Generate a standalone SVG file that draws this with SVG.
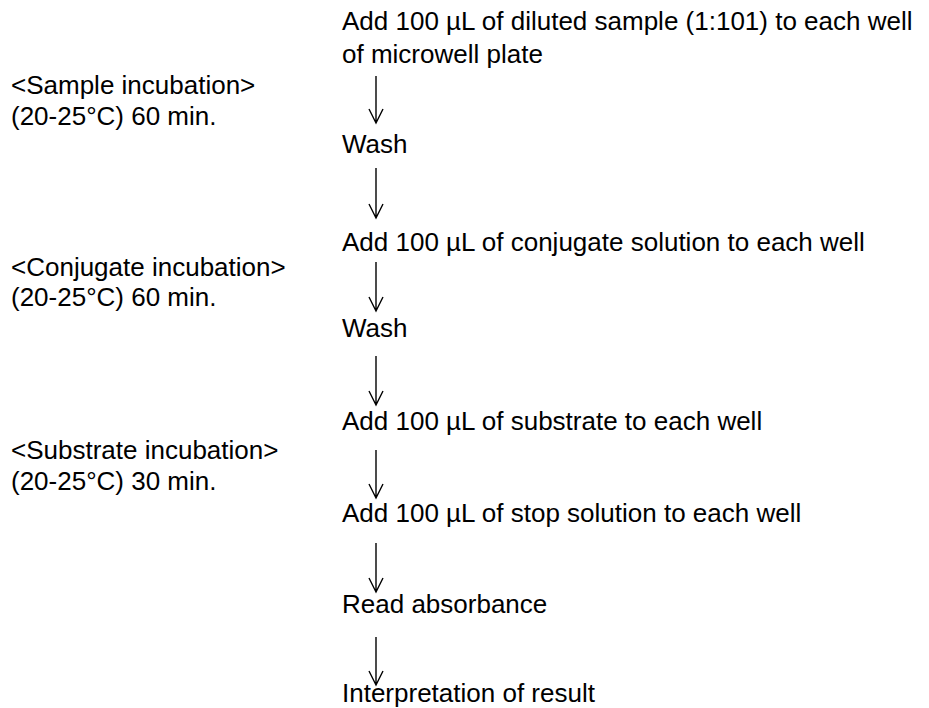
<svg xmlns="http://www.w3.org/2000/svg" width="929" height="708" viewBox="0 0 929 708">
<style>
text{font-family:"Liberation Sans",Arial,sans-serif;font-size:26px;fill:#000}
.c path{fill:none;stroke:#000;stroke-width:1.4}
</style>
<rect width="929" height="708" fill="#fff"/>
<g id="step1"><text x="342" y="30">Add 100 µL of diluted sample (1:101) to each well</text><text x="342" y="63">of microwell plate</text></g>
<g id="sample-incubation"><text x="11" y="94">&lt;Sample incubation&gt;</text><text x="11" y="125">(20-25°C) 60 min.</text></g>
<g id="wash1"><text x="342" y="153">Wash</text></g>
<g id="step-conjugate"><text x="342" y="251">Add 100 µL of conjugate solution to each well</text></g>
<g id="conjugate-incubation"><text x="11" y="276">&lt;Conjugate incubation&gt;</text><text x="11" y="306">(20-25°C) 60 min.</text></g>
<g id="wash2"><text x="342" y="337">Wash</text></g>
<g id="step-substrate"><text x="342" y="430">Add 100 µL of substrate to each well</text></g>
<g id="substrate-incubation"><text x="11" y="459">&lt;Substrate incubation&gt;</text><text x="11" y="490">(20-25°C) 30 min.</text></g>
<g id="step-stop"><text x="342" y="522">Add 100 µL of stop solution to each well</text></g>
<g id="read"><text x="342" y="613">Read absorbance</text></g>
<g id="interpret"><text x="342" y="702">Interpretation of result</text></g>
<g id="connectors" class="c">
<path d="M376 76V123M369 109L376 123L383 109"/>
<path d="M376 168V218M369 204L376 218L383 204"/>
<path d="M376 262V311M369 297L376 311L383 297"/>
<path d="M376 356V405M369 391L376 405L383 391"/>
<path d="M376 450V498M369 484L376 498L383 484"/>
<path d="M376 543V592M369 578L376 592L383 578"/>
<path d="M376 637V685M369 671L376 685L383 671"/>
</g>
</svg>
